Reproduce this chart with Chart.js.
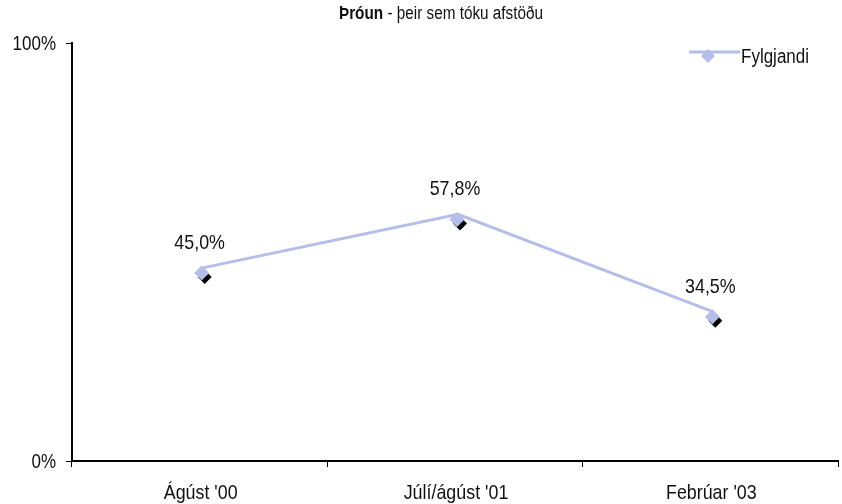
<!DOCTYPE html>
<html>
<head>
<meta charset="utf-8">
<script src="https://cdn.jsdelivr.net/npm/chart.js@4.4.1/dist/chart.umd.min.js"></script>
<style>
  html, body { margin: 0; padding: 0; background: #fff; }
</style>
</head>
<body>
<canvas id="grafico" width="842" height="504"></canvas>
<script>
const categories = ["Ágúst '00", "Júlí/ágúst '01", "Febrúar '03"];
const fylgjandi = [45.0, 57.8, 34.5];
const yTicks = [0, 100];
const seriesName = "Fylgjandi";
const titleBold = "Þróun";
const titleRest = " - þeir sem tóku afstöðu";

const FONT = "'Liberation Sans', Arial, sans-serif";
const SQUEEZE = 0.85; // original text is a narrow face
const lineColor = "#b4bee9";

const formatPct = (v) => v.toFixed(1).replace(".", ",") + "%";

function diamond(ctx, x, y, r, color) {
    ctx.beginPath();
    ctx.moveTo(x, y - r);
    ctx.lineTo(x + r, y);
    ctx.lineTo(x, y + r);
    ctx.lineTo(x - r, y);
    ctx.closePath();
    ctx.fillStyle = color;
    ctx.fill();
}

// narrow text: draws with horizontal squeeze, returns drawn width
function text(ctx, str, x, y, size, align, bold) {
    ctx.save();
    ctx.font = (bold ? "bold " : "") + size + "px " + FONT;
    const w = ctx.measureText(str).width * SQUEEZE;
    let sx = x;
    if (align === "center") sx = x - w / 2;
    if (align === "right") sx = x - w;
    ctx.translate(sx, y);
    ctx.scale(SQUEEZE, 1);
    ctx.textAlign = "left";
    ctx.textBaseline = "alphabetic";
    ctx.fillStyle = "#111";
    ctx.fillText(str, 0, 0);
    ctx.restore();
    return w;
}

const extras = {
    id: "extras",
    beforeDatasetDraw(chart) {
        chart.ctx.save();
        chart.ctx.translate(3, -5);
    },
    afterDatasetDraw(chart) {
        chart.ctx.restore();
    },
    afterDatasetsDraw(chart) {
        const ctx = chart.ctx;
        const meta = chart.getDatasetMeta(0);
        meta.data.forEach((pt, i) => {
            diamond(ctx, pt.x + 5, pt.y + 4, 7, "#000");
            diamond(ctx, pt.x + 2, pt.y, 7.5, lineColor);
            text(ctx, formatPct(fylgjandi[i]), pt.x, pt.y - 24, 21, "center");
        });
    },
    afterDraw(chart) {
        const ctx = chart.ctx;
        const x = chart.scales.x, y = chart.scales.y;
        // tick labels
        categories.forEach((c, i) => text(ctx, c, x.getPixelForTick(i) + 1, 499, 21, "center"));
        yTicks.forEach(v => text(ctx, v + "%", 56, y.getPixelForValue(v) + 7, 20, "right"));
        // title
        ctx.font = "bold 18px " + FONT;
        const wb = ctx.measureText(titleBold).width * SQUEEZE;
        ctx.font = "18px " + FONT;
        const wr = ctx.measureText(titleRest).width * SQUEEZE;
        const sx = 441 - (wb + wr) / 2;
        text(ctx, titleBold, sx, 19, 18, "left", true);
        text(ctx, titleRest, sx + wb, 19, 18, "left");
        // legend
        ctx.save();
        ctx.strokeStyle = lineColor;
        ctx.lineWidth = 3;
        ctx.beginPath();
        ctx.moveTo(689, 52);
        ctx.lineTo(740, 52);
        ctx.stroke();
        ctx.restore();
        diamond(ctx, 708, 56, 7, lineColor);
        text(ctx, seriesName, 741, 63, 20, "left");
    }
};

const canvas = document.getElementById("grafico");
new Chart(canvas, {
    type: "line",
    data: {
        labels: categories,
        datasets: [{
            label: seriesName,
            data: fylgjandi,
            borderColor: lineColor,
            borderWidth: 3,
            pointRadius: 0,
            tension: 0
        }]
    },
    options: {
        responsive: false,
        animation: false,
        devicePixelRatio: 1,
        layout: { padding: { top: 43, right: 4, left: 0, bottom: 0 } },
        plugins: { legend: { display: false }, title: { display: false }, tooltip: { enabled: false } },
        scales: {
            x: {
                offset: true,
                afterFit(axis) { axis.height = 43; },
                grid: { offset: true, drawOnChartArea: false, tickLength: 6, color: "#000", tickColor: "#000" },
                border: { color: "#000", width: 2 },
                ticks: { display: false }
            },
            y: {
                min: 0,
                max: 100,
                afterBuildTicks(axis) { axis.ticks = yTicks.map(v => ({ value: v })); },
                afterFit(axis) { axis.width = 72; },
                grid: { drawOnChartArea: false, tickLength: 6, color: "#000", tickColor: "#000" },
                border: { color: "#000", width: 2 },
                ticks: { display: false }
            }
        }
    },
    plugins: [extras]
});
</script>
</body>
</html>
